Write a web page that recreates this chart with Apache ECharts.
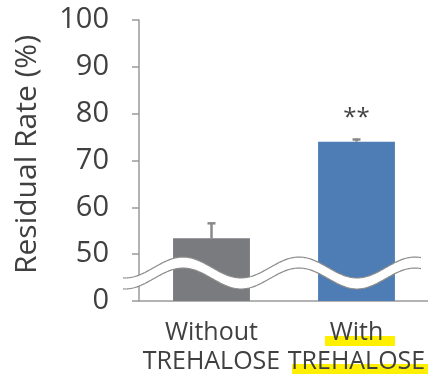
<!DOCTYPE html>
<html>
<head>
<meta charset="utf-8">
<script src="https://cdn.jsdelivr.net/npm/echarts@6/dist/echarts.min.js"></script>
<style>
  html, body { margin: 0; padding: 0; background: #fff; }
  #chart { width: 428px; height: 374px; }
</style>
</head>
<body>
<div id="chart"></div>
<script>
// Residual rate with and without trehalose (mean + SD)
const categories = ['Without\nTREHALOSE', 'With\nTREHALOSE'];
const residualRate = [53.4, 74.0];
const errorSD = [3.4, 0.7];
const significance = ['', '**'];
const barColors = ['#7a7b7f', '#4d7db4'];
// Broken axis: the lowest tick stands for 0, the rest run 50..100
const axisBottom = 40;
const axisTop = 100;
const tickStep = 10;

const textColor = '#404040';
const axisColor = '#9a9a9a';
const fontFamily = '"Open Sans", "Noto Sans", sans-serif';

const chart = echarts.init(document.getElementById('chart'), null, { renderer: 'canvas' });

const grid = { left: 139, right: -1, top: 20, bottom: 73, containLabel: false, outerBoundsMode: 'none' };

// Wavy break band drawn across the plot between the "0" and "50" ticks
function wavePoints(offset) {
  const pts = [];
  for (let x = 123; x <= 422; x += 2) {
    pts.push([x, 267.5 + offset - 10.5 * Math.cos(2 * Math.PI * (x - 183) / 116)]);
  }
  return pts;
}
const upper = wavePoints(0);
const lower = wavePoints(11);

const option = {
  animation: false,
  backgroundColor: '#fff',
  grid: grid,
  xAxis: {
    type: 'category',
    data: categories,
    axisLine: { lineStyle: { color: axisColor, width: 1.5 } },
    axisTick: { inside: true, length: 5, lineStyle: { color: axisColor, width: 1.5 } },
    axisLabel: {
      interval: 0,
      color: textColor, fontSize: 25, lineHeight: 29, margin: 17,
      fontFamily: fontFamily
    }
  },
  yAxis: {
    type: 'value',
    min: axisBottom,
    max: axisTop,
    interval: tickStep,
    splitLine: { show: false },
    axisLine: { show: true, lineStyle: { color: axisColor, width: 1.5 } },
    axisTick: { show: true, length: 7, lineStyle: { color: axisColor, width: 1.5 } },
    axisLabel: {
      color: textColor, fontSize: 29, margin: 30, fontFamily: fontFamily,
      formatter: v => (v === axisBottom ? '0' : String(v))
    },
    name: 'Residual Rate (%)',
    nameLocation: 'middle',
    nameGap: 97,
    nameTextStyle: { color: textColor, fontSize: 30, fontFamily: fontFamily, padding: [0, 0, 0, 12] }
  },
  series: [
    {
      type: 'bar',
      barWidth: '53%',
      data: residualRate.map((v, i) => ({
        value: v,
        itemStyle: { color: barColors[i] }
      })),
      z: 2
    },
    {
      type: 'custom',
      z: 3,
      data: residualRate.map((v, i) => [i, v, errorSD[i]]),
      renderItem: function (params, api) {
        const x = api.value(0);
        const base = api.coord([x, api.value(1)]);
        const top = api.coord([x, api.value(1) + api.value(2)]);
        const cap = 4;
        const children = [
          { type: 'line', shape: { x1: base[0], y1: base[1], x2: top[0], y2: top[1] },
            style: { stroke: '#8a8a8a', lineWidth: 2.5 } },
          { type: 'line', shape: { x1: top[0] - cap, y1: top[1] + 1, x2: top[0] + cap, y2: top[1] + 1 },
            style: { stroke: '#8a8a8a', lineWidth: 2.5 } }
        ];
        const mark = significance[params.dataIndex];
        if (mark) {
          children.push({
            type: 'text',
            style: {
              text: mark, x: top[0], y: top[1] - 20,
              fill: textColor, font: '24px ' + fontFamily,
              align: 'center', verticalAlign: 'middle'
            }
          });
        }
        return { type: 'group', children: children };
      }
    }
  ],
  graphic: [
    // highlighter marks under the "With TREHALOSE" label
    { type: 'rect', z: -5, shape: { x: 325, y: 336, width: 70, height: 10 }, style: { fill: '#fff000' } },
    { type: 'rect', z: -5, shape: { x: 292, y: 364, width: 136, height: 10 }, style: { fill: '#fff000' } },
    // axis break band
    { type: 'polygon', z: 100, shape: { points: upper.concat(lower.slice().reverse()) }, style: { fill: '#fff' } },
    { type: 'polyline', z: 101, shape: { points: upper }, style: { stroke: '#8c8c8c', lineWidth: 1.2, fill: null } },
    { type: 'polyline', z: 101, shape: { points: lower }, style: { stroke: '#8c8c8c', lineWidth: 1.2, fill: null } }
  ]
};

chart.setOption(option);
</script>
</body>
</html>
